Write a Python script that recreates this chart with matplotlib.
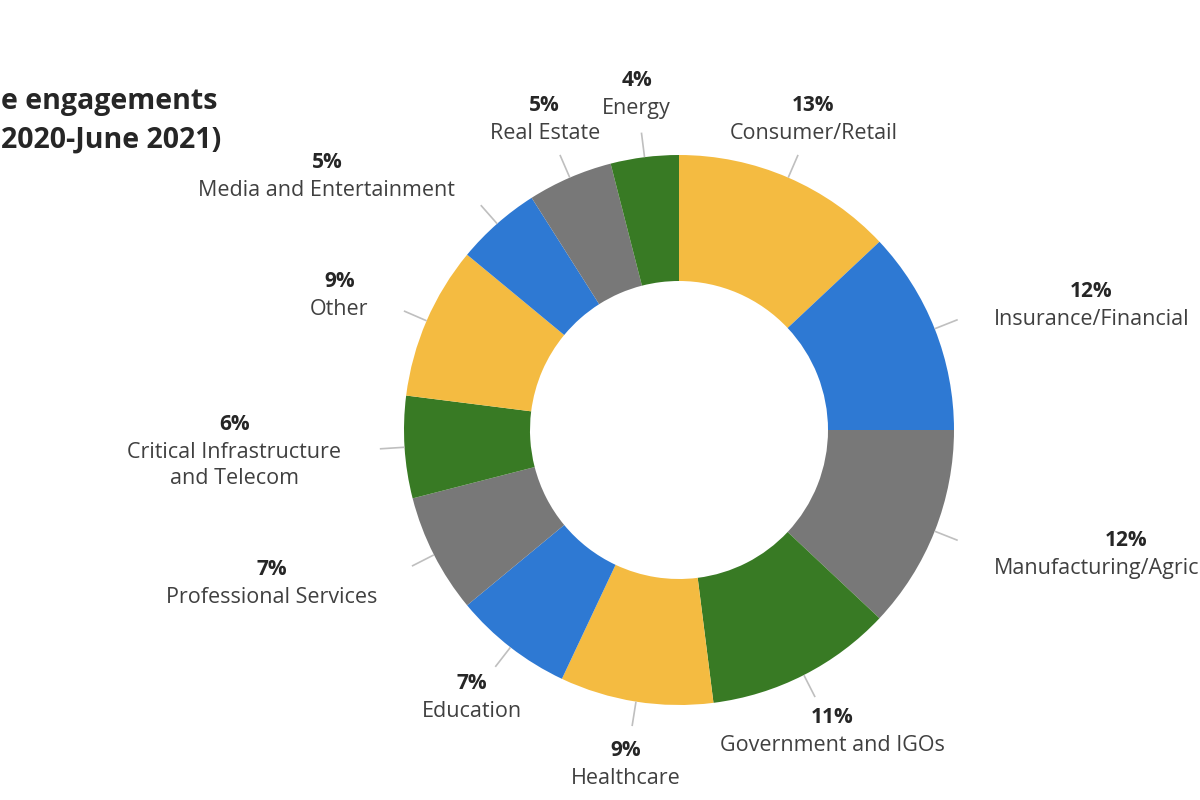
import numpy as np
import matplotlib
matplotlib.use("Agg")
import matplotlib.pyplot as plt
from matplotlib.offsetbox import TextArea, VPacker, AnnotationBbox

categories = ["Consumer/Retail", "Insurance/Financial", "Manufacturing/Agriculture",
              "Government and IGOs", "Healthcare", "Education", "Professional Services",
              "Critical Infrastructure\nand Telecom", "Other", "Media and Entertainment",
              "Real Estate", "Energy"]
shares = [13, 12, 12, 11, 9, 7, 7, 6, 9, 5, 5, 4]
colors = ["#F4BB41", "#2E79D3", "#787878", "#387A24",
          "#F4BB41", "#2E79D3", "#787878", "#387A24",
          "#F4BB41", "#2E79D3", "#787878", "#387A24"]
title_lines = ["e engagements", "2020-June 2021)"]

FONT = "Open Sans"

fig = plt.figure(figsize=(12, 8), dpi=100)
ax = fig.add_axes([0, 0, 1, 1])
cx, cy, R = 679, 370, 275
wedges, _ = ax.pie(shares, colors=colors, startangle=90, counterclock=False,
                   radius=R, center=(cx, cy), frame=True,
                   wedgeprops=dict(width=126, linewidth=0))
ax.set_xlim(0, 1200)
ax.set_ylim(0, 800)
ax.set_aspect("equal")
ax.axis("off")

for w, name, s in zip(wedges, categories, shares):
    theta = np.deg2rad((w.theta1 + w.theta2) / 2)
    c, sn = np.cos(theta), np.sin(theta)
    ax.plot([cx + R * c, cx + 1.09 * R * c], [cy + R * sn, cy + 1.09 * R * sn],
            color="#BFBFBF", lw=1.2, solid_capstyle="butt")
    anchor = (cx + 1.23 * R * c, cy + 1.23 * R * sn)
    bx = 0 if c > 0.63 else (1 if c < -0.63 else 0.5)
    pct = TextArea(f"{s}%", textprops=dict(fontsize=15, fontweight="bold",
                                          color="#262626", family=FONT))
    nm = TextArea(name, textprops=dict(fontsize=15.5, color="#404040", family=FONT,
                                       multialignment="center", linespacing=1.3))
    box = VPacker(children=[pct, nm], align="center", pad=0, sep=5)
    ab = AnnotationBbox(box, anchor, box_alignment=(bx, 0.5), frameon=False,
                        pad=0, xycoords="data", annotation_clip=False)
    ax.add_artist(ab)

fig.text(0.001, 1 - 101 / 800, title_lines[0], fontsize=20.5, fontweight="bold",
         color="#262626", family=FONT, ha="left", va="center")
fig.text(0.001, 1 - 140 / 800, title_lines[1], fontsize=20.5, fontweight="bold",
         color="#262626", family=FONT, ha="left", va="center")

fig.savefig("out.png", dpi=100, facecolor="white")
